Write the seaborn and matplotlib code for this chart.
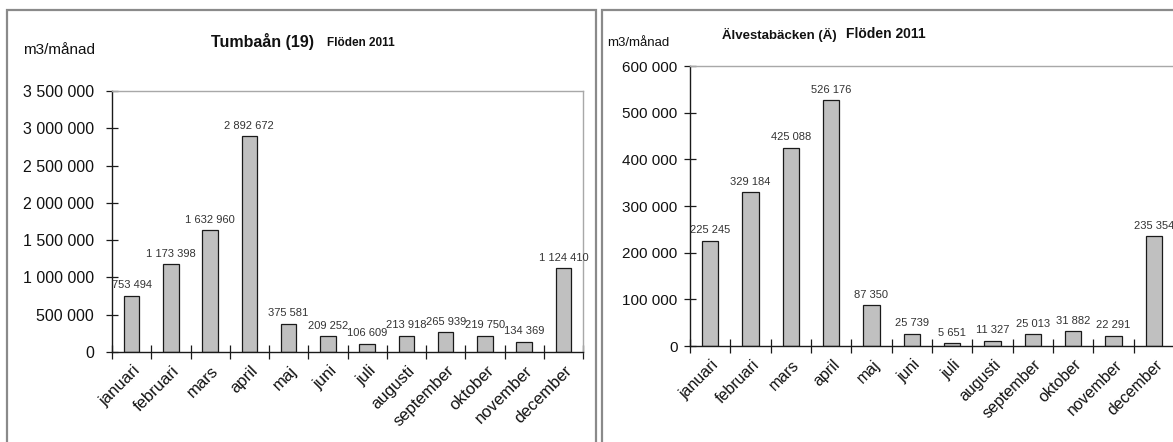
import matplotlib
matplotlib.use("Agg")
import matplotlib.pyplot as plt
from matplotlib.patches import Rectangle
from matplotlib.ticker import FuncFormatter, FixedLocator
import matplotlib.transforms as mtransforms
import pandas as pd
import seaborn as sns

months = ["januari", "februari", "mars", "april", "maj", "juni", "juli",
          "augusti", "september", "oktober", "november", "december"]

tumbaan_flow = [753494, 1173398, 1632960, 2892672, 375581, 209252, 106609,
                213918, 265939, 219750, 134369, 1124410]

alvestabacken_flow = [225245, 329184, 425088, 526176, 87350, 25739, 5651,
                      11327, 25013, 31882, 22291, 235354]

sns.set_theme(style="white")
plt.rcParams["font.family"] = ["Liberation Sans", "DejaVu Sans"]

W, H = 1173, 442
fig = plt.figure(figsize=(W / 100, H / 100), dpi=100)
fig.patch.set_facecolor("white")


def fx(px):
    return px / W


def fy(py):
    return 1 - py / H


# panel frames
for x0, x1 in [(7, 596), (602, 1190)]:
    fig.add_artist(Rectangle((fx(x0), fy(460)), fx(x1 - x0), (460 - 10) / H,
                             transform=fig.transFigure, fill=False,
                             edgecolor="#8a8a8a", linewidth=1.6, zorder=0))


def space_thousands(v, pos=None):
    return f"{int(round(v)):,}".replace(",", " ")


def draw_panel(ax, values, ymax, step, tick_size, tick_pad, month_size):
    df = pd.DataFrame({"month": months, "flow": values})
    sns.barplot(data=df, x="month", y="flow", color="#c0c0c0", saturation=1,
                edgecolor="#1a1a1a", linewidth=0.9, width=0.4, ax=ax)
    ax.set_xlim(-0.5, len(months) - 0.5)
    ax.set_ylim(0, ymax)
    ax.set_yticks(range(0, ymax + 1, step))
    ax.yaxis.set_major_formatter(FuncFormatter(space_thousands))
    ax.set_xlabel("")
    ax.set_ylabel("")
    ax.set_facecolor("white")
    for side in ("left", "bottom"):
        ax.spines[side].set_color("#1a1a1a")
        ax.spines[side].set_linewidth(1.0)
    for side in ("top", "right"):
        ax.spines[side].set_color("#a8a8a8")
        ax.spines[side].set_linewidth(1.0)
    ax.tick_params(axis="y", which="major", direction="inout", length=8,
                   width=0.9, color="#1a1a1a", labelsize=tick_size,
                   pad=tick_pad, labelcolor="#111111", left=True)
    ax.tick_params(axis="x", which="major", length=0, pad=8,
                   labelsize=month_size, labelcolor="#111111")
    ax.xaxis.set_minor_locator(FixedLocator([i - 0.5 for i in range(len(months) + 1)]))
    ax.tick_params(axis="x", which="minor", direction="inout", length=10,
                   width=0.9, color="#1a1a1a", bottom=True)
    shift = mtransforms.ScaledTranslation(1 / 100, 0, fig.dpi_scale_trans)
    for lab in ax.get_xticklabels():
        lab.set_rotation(45)
        lab.set_ha("right")
        lab.set_va("top")
        lab.set_rotation_mode("anchor")
        lab.set_transform(lab.get_transform() + shift)
    for i, v in enumerate(values):
        ax.annotate(space_thousands(v), (i, v), xytext=(0, 4),
                    textcoords="offset points", ha="center", va="bottom",
                    fontsize=8, color="#333333", clip_on=False)


ax1 = fig.add_axes([fx(112), fy(352), fx(583 - 112), (352 - 91) / H])
draw_panel(ax1, tumbaan_flow, 3500000, 500000, 11.5, 9, 12)

ax2 = fig.add_axes([fx(690), fy(346), fx(1174 - 690), (346 - 66) / H])
draw_panel(ax2, alvestabacken_flow, 600000, 100000, 11, 5, 11.5)

# headings and units
fig.text(fx(23), fy(50), "m3/månad", fontsize=11, color="#111111", va="center")
fig.text(fx(211), fy(41), "Tumbaån (19)", fontsize=11.5, fontweight="bold",
         color="#111111", va="center")
fig.text(fx(327), fy(43), "Flöden 2011", fontsize=8.5, fontweight="bold",
         color="#111111", va="center")

fig.text(fx(607), fy(43), "m3/månad", fontsize=9.5, color="#111111", va="center")
fig.text(fx(722), fy(35), "Älvestabäcken (Ä)", fontsize=9.5, fontweight="bold",
         color="#111111", va="center")
fig.text(fx(846), fy(34), "Flöden 2011", fontsize=10, fontweight="bold",
         color="#111111", va="center")

fig.savefig("out.png", dpi=100, facecolor="white")
